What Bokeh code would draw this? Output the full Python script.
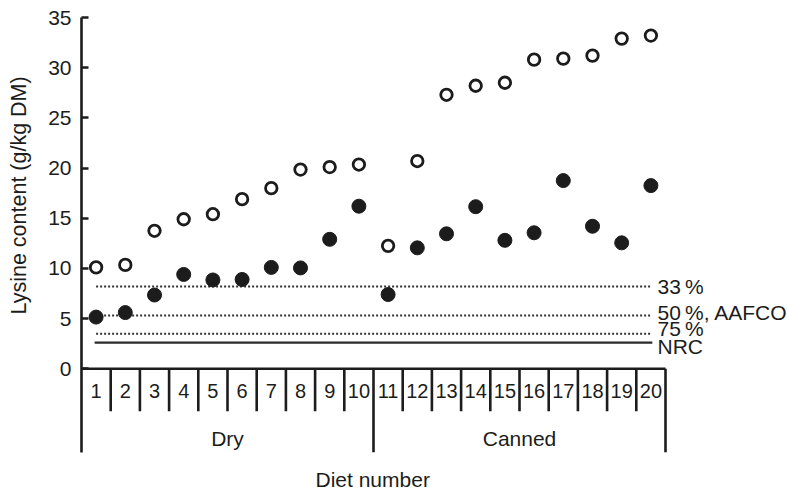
import math
from bokeh.plotting import figure
from bokeh.models import Range1d, FixedTicker, Title, ColumnDataSource
from bokeh.embed import file_html
from bokeh.resources import INLINE
from bokeh.core.properties import value

# ---------------- data ----------------
diet = list(range(1, 21))
lysine_open = [10.1, 10.35, 13.75, 14.9, 15.4, 16.9, 18.0, 19.85, 20.1, 20.35,
               12.25, 20.7, 27.3, 28.2, 28.5, 30.8, 30.9, 31.2, 32.9, 33.2]
lysine_filled = [5.15, 5.6, 7.35, 9.4, 8.85, 8.9, 10.1, 10.05, 12.9, 16.2,
                 7.4, 12.05, 13.45, 16.15, 12.8, 13.55, 18.75, 14.2, 12.55, 18.25]
ref_names = ["33\u2009%", "50\u2009%, AAFCO", "75\u2009%", "NRC"]
ref_values = [8.2, 5.3, 3.5, 2.6]
ref_dashed = [True, True, True, False]
groups = ["Dry", "Canned"]
group_first = [1, 11]
group_last = [10, 20]
y_ticks = [0, 5, 10, 15, 20, 25, 30, 35]

# ---------------- layout constants ----------------
W, H = 788, 490
LEFT, TOP, BOTTOM_BORDER = 81, 17, 37
PX_PER_X = 29.2          # pixels per diet column
PX_PER_Y = 10.06         # pixels per g/kg
frame_w = W - LEFT
frame_h = H - TOP - BOTTOM_BORDER
x0 = 0.5
x1 = x0 + frame_w / PX_PER_X
y1 = 35
y0 = y1 - frame_h / PX_PER_Y

INK = "#1c1c1c"
FONT = "Liberation Sans"
FS = "21px"

p = figure(width=W, height=H, output_backend="svg", toolbar_location=None,
           x_range=Range1d(x0, x1), y_range=Range1d(y0, y1),
           min_border_left=LEFT, min_border_top=TOP, min_border_right=0,
           min_border_bottom=BOTTOM_BORDER)
p.outline_line_color = None
p.grid.visible = False
p.xaxis.visible = False
p.background_fill_color = "white"
p.border_fill_color = "white"

ya = p.yaxis[0]
ya.ticker = FixedTicker(ticks=y_ticks)
ya.axis_line_width = 2.6
ya.axis_line_color = INK
ya.major_tick_line_width = 2.6
ya.major_tick_line_color = INK
ya.major_tick_in = 7
ya.major_tick_out = 0
ya.minor_tick_line_color = None
ya.major_label_standoff = 10
ya.major_label_text_font = FONT
ya.major_label_text_font_size = FS
ya.major_label_text_color = INK

# ---------------- category table below the axis ----------------
col_depth = -(42.5 / PX_PER_Y)
p.segment(x0=[x0], y0=[0], x1=[diet[-1] + 0.5], y1=[0], line_width=2.6, line_color=INK)
div_x = [d + 0.5 for d in diet if d not in group_last]
p.segment(x0=div_x, y0=[0] * len(div_x), x1=div_x, y1=[col_depth] * len(div_x),
          line_width=2.6, line_color=INK)
gx = [g + 0.5 for g in group_last]
p.segment(x0=gx, y0=[0] * len(gx), x1=gx, y1=[y0] * len(gx), line_width=2.6, line_color=INK)

num_y = -(22 / PX_PER_Y)
p.text(x=diet, y=[num_y] * len(diet), text=[str(d) for d in diet],
       text_font=value(FONT), text_font_size="20px", text_color=INK,
       text_align="center", text_baseline="middle")
grp_y = -(70 / PX_PER_Y)
gcx = [(a + b) / 2 for a, b in zip(group_first, group_last)]
p.text(x=gcx, y=[grp_y] * len(gcx), text=groups,
       text_font=value(FONT), text_font_size=FS, text_color=INK,
       text_align="center", text_baseline="middle")

# ---------------- reference lines ----------------
for name, v, dashed in zip(ref_names, ref_values, ref_dashed):
    if dashed:
        p.segment(x0=[diet[0]], y0=[v], x1=[diet[-1]], y1=[v],
                  line_width=2, line_color="#333333", line_dash="2 2")
    else:
        p.segment(x0=[diet[0] - 0.05], y0=[v], x1=[diet[-1] + 0.05], y1=[v],
                  line_width=2.2, line_color="#2a2a2a")

label_px_offset = [0, -3, -5.5, 3.5]   # text centre shift (px, downward)
lab_y = [v - o / PX_PER_Y for v, o in zip(ref_values, label_px_offset)]
lab_x = diet[-1] + 0.5 - 8 / PX_PER_X
p.text(x=[lab_x] * len(ref_names), y=lab_y, text=ref_names,
       text_font=value(FONT), text_font_size=FS, text_color=INK,
       text_align="left", text_baseline="middle")

# ---------------- data points ----------------
src = ColumnDataSource(dict(diet=diet, lo=lysine_open, lf=lysine_filled))
p.scatter("diet", "lo", source=src, marker="circle", size=11.5,
          fill_color="white", line_color=INK, line_width=2.8)
p.scatter("diet", "lf", source=src, marker="circle", size=14,
          fill_color=INK, line_color=INK, line_width=1)

# ---------------- axis titles (with blank spacer panels) ----------------
p.add_layout(Title(text=" ", text_font_size="11px", standoff=0), "left")
ytitle = Title(text="Lysine content (g/kg DM)", align="left", offset=138,
               vertical_align="middle", standoff=0,
               text_font=FONT, text_font_size="21.5px", text_color=INK,
               text_font_style="normal")
p.add_layout(ytitle, "left")
p.add_layout(Title(text=" ", text_font_size="10px", standoff=0), "below")
xtitle = Title(text="Diet number", align="left", offset=234,
               vertical_align="bottom", standoff=0,
               text_font=FONT, text_font_size=FS, text_color=INK,
               text_font_style="normal")
p.add_layout(xtitle, "below")

open("out.html", "w").write(file_html(p, INLINE))
